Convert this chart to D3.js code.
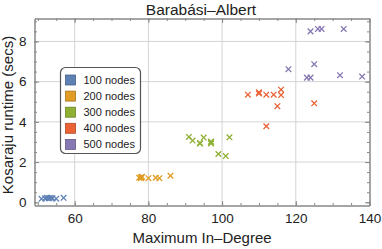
<!DOCTYPE html>
<html>
<head>
<meta charset="utf-8">
<script src="https://cdn.jsdelivr.net/npm/d3@7"></script>
<style>
  body { margin: 0; background: #fff; }
  svg { font-family: "Liberation Sans", Arial, sans-serif; }
</style>
</head>
<body>
<svg width="382" height="249"></svg>
<script>
const seriesNames = ['100 nodes', '200 nodes', '300 nodes', '400 nodes', '500 nodes'];
const seriesColors = ['#5E81B5', '#E19C24', '#8FB032', '#EB6235', '#8778B3'];

// [max in-degree, runtime secs]
const nodes100 = [[51, 0.17], [52, 0.2], [52.5, 0.22], [53, 0.2], [53.5, 0.22], [54, 0.2], [55, 0.18], [57, 0.22]];
const nodes200 = [[77.5, 1.22], [78, 1.25], [78, 1.2], [78.3, 1.27], [80, 1.2], [82, 1.22], [83, 1.2], [86, 1.32]];
const nodes300 = [[91, 3.25], [92, 3.07], [94, 2.92], [94, 2.95], [95, 3.22], [97, 3.02], [97, 2.92], [97, 2.98], [99, 2.4], [101, 2.3], [102, 3.23]];
const nodes400 = [[107, 5.35], [110, 5.47], [110, 5.41], [112, 5.35], [114, 5.35], [116, 5.6], [116, 5.33], [115, 4.78], [125, 4.92], [112, 3.78]];
const nodes500 = [[118, 6.62], [123, 6.2], [124, 6.2], [125, 6.87], [124, 8.5], [126, 8.62], [127, 8.62], [133, 8.62], [132, 6.32], [138, 6.25]];
const allSeries = [nodes100, nodes200, nodes300, nodes400, nodes500];

const xTicks = [60, 80, 100, 120, 140];
const yTicks = [0, 2, 4, 6, 8];

const svg = d3.select('svg');
const plot = { left: 34.5, right: 369.5, top: 18.5, bottom: 205.5 };

const x = d3.scaleLinear().domain([49.1, 140]).range([plot.left, plot.right]);
const y = d3.scaleLinear().domain([-0.16, 9.14]).range([plot.bottom, plot.top]);

// grid
svg.append('g')
    .selectAll('line')
    .data(xTicks.filter(d => d < 140))
    .join('line')
    .attr('x1', d => x(d)).attr('x2', d => x(d))
    .attr('y1', plot.top).attr('y2', plot.bottom)
    .attr('stroke', '#d4d4d4');
svg.append('g')
    .selectAll('line')
    .data(yTicks.filter(d => d > 0))
    .join('line')
    .attr('x1', plot.left).attr('x2', plot.right)
    .attr('y1', d => y(d)).attr('y2', d => y(d))
    .attr('stroke', '#d4d4d4');

// frame axes with inward ticks (Mathematica style)
const xMinor = d3.range(50, 141, 5);
const yMinor = d3.range(0, 9.01, 0.5);
const axisCol = '#888';

function frameAxis(axis, pos) {
    const g = svg.append('g').attr('transform', pos).call(axis);
    g.select('.domain').attr('stroke', axisCol);
    g.selectAll('.tick line').attr('stroke', axisCol);
    g.selectAll('.tick text').attr('font-size', 13.5).attr('fill', '#222');
    return g;
}

// minor ticks
frameAxis(d3.axisBottom(x).tickValues(xMinor).tickSize(-2.5).tickFormat('').tickSizeOuter(0), `translate(0,${plot.bottom})`);
frameAxis(d3.axisTop(x).tickValues(xMinor).tickSize(-2.5).tickFormat('').tickSizeOuter(0), `translate(0,${plot.top})`);
frameAxis(d3.axisLeft(y).tickValues(yMinor).tickSize(-2.5).tickFormat('').tickSizeOuter(0), `translate(${plot.left},0)`);
frameAxis(d3.axisRight(y).tickValues(yMinor).tickSize(-2.5).tickFormat('').tickSizeOuter(0), `translate(${plot.right},0)`);

// major ticks
frameAxis(d3.axisBottom(x).tickValues(xTicks).tickSize(-4.5).tickPadding(8).tickSizeOuter(0), `translate(0,${plot.bottom})`);
frameAxis(d3.axisTop(x).tickValues(xTicks).tickSize(-4.5).tickFormat('').tickSizeOuter(0), `translate(0,${plot.top})`);
frameAxis(d3.axisLeft(y).tickValues(yTicks).tickSize(-4.5).tickPadding(8).tickSizeOuter(0), `translate(${plot.left},0)`);
frameAxis(d3.axisRight(y).tickValues(yTicks).tickSize(-4.5).tickFormat('').tickSizeOuter(0), `translate(${plot.right},0)`);

// markers
const s = 2.8;
allSeries.forEach((data, i) => {
    svg.append('g')
        .selectAll('path')
        .data(data)
        .join('path')
        .attr('d', d => {
            const px = x(d[0]), py = y(d[1]);
            return `M${px - s},${py - s}L${px + s},${py + s}M${px - s},${py + s}L${px + s},${py - s}`;
        })
        .attr('stroke', seriesColors[i])
        .attr('stroke-width', 1.3)
        .attr('fill', 'none');
});

// title and labels
svg.append('text')
    .attr('x', 201).attr('y', 15)
    .attr('text-anchor', 'middle')
    .attr('font-size', 15.5).attr('fill', '#222')
    .text('Barabási–Albert');
svg.append('text')
    .attr('x', 202).attr('y', 243)
    .attr('text-anchor', 'middle')
    .attr('font-size', 15).attr('fill', '#222')
    .text('Maximum In–Degree');
svg.append('text')
    .attr('transform', 'translate(13,115) rotate(-90)')
    .attr('text-anchor', 'middle')
    .attr('font-size', 15).attr('fill', '#222')
    .text('Kosaraju runtime (secs)');

// legend
const legend = svg.append('g').attr('transform', 'translate(60.5,67.5)');
legend.append('rect')
    .attr('width', 80).attr('height', 86)
    .attr('rx', 5)
    .attr('fill', '#fff')
    .attr('stroke', '#555')
    .attr('stroke-width', 1.2);
const item = legend.selectAll('g.item')
    .data(seriesNames)
    .join('g')
    .attr('class', 'item')
    .attr('transform', (d, i) => `translate(0,${12.5 + i * 16.1})`);
item.append('rect')
    .attr('x', 5).attr('y', -5)
    .attr('width', 10).attr('height', 10)
    .attr('fill', (d, i) => seriesColors[i])
    .attr('stroke', (d, i) => d3.color(seriesColors[i]).darker(0.8))
    .attr('stroke-width', 0.8);
item.append('text')
    .attr('x', 23).attr('y', 4)
    .attr('font-size', 11).attr('fill', '#222')
    .text(d => d);
</script>
</body>
</html>
